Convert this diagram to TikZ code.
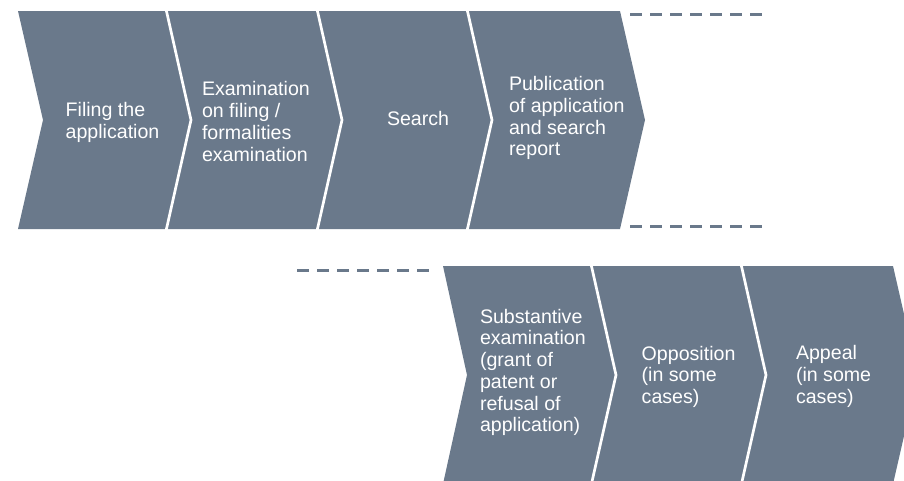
\documentclass[tikz,border=0pt]{standalone}
\usepackage{fontspec}
\setmainfont{Liberation Sans}
\definecolor{chev}{HTML}{6A798B}
\tikzset{
  chevfill/.style={fill=chev, draw=none},
  sepline/.style={draw=white, line width=2.7pt, line join=miter},
  dashline/.style={draw=chev, line width=3pt, dash pattern=on 11.7pt off 8.3pt},
  label/.style={anchor=north west, inner sep=0pt, outer sep=0pt, text=white, align=left,
    font=\fontsize{19.6}{21.7}\selectfont}
}
\begin{document}
\begin{tikzpicture}[x=1pt, y=-1pt]
\useasboundingbox (0,0) rectangle (904,480);
\clip (0,0) rectangle (904,480);
% top row chevrons (top 11, middle 120, bottom 229)
\foreach \L/\R in {18/166, 166/317, 317/467, 467/620} {
  \path[chevfill] (\L,11) -- (\R,11) -- (\R+25,120) -- (\R,229) -- (\L,229) -- (\L+25,120) -- cycle;
}
\foreach \R in {166, 317, 467} {
  \draw[sepline] (\R,9) -- (\R+25,120) -- (\R,231);
}
% bottom row chevrons (top 266, middle 375, bottom 484)
\foreach \L/\R in {443/591, 591/741, 741/893} {
  \path[chevfill] (\L,266) -- (\R,266) -- (\R+25,375) -- (\R,484) -- (\L,484) -- (\L+24,375) -- cycle;
}
\foreach \R in {591, 741} {
  \draw[sepline] (\R,264) -- (\R+25,375) -- (\R,486);
}
% dashed lines
\draw[dashline] (630,14.3) -- (762,14.3);
\draw[dashline] (630,226.7) -- (762,226.7);
\draw[dashline] (297,270.7) -- (429,270.7);
% labels
\node[label] (filing) at (65.7,102.7) {Filing the\\application};
\node[label] (exam) at (202,81.7) {Examination\\on filing /\\formalities\\examination};
\node[label] (search) at (387,111.7) {Search};
\node[label] (publ) at (509,76.5) {Publication\\of application\\and search\\report};
\node[label] (subst) at (480,309) {Substantive\\examination\\(grant of\\patent or\\refusal of\\application)};
\node[label] (oppo) at (641.7,346) {Opposition\\(in some\\cases)};
\node[label] (appeal) at (796,345.7) {Appeal\\(in some\\cases)};
\end{tikzpicture}
\end{document}
